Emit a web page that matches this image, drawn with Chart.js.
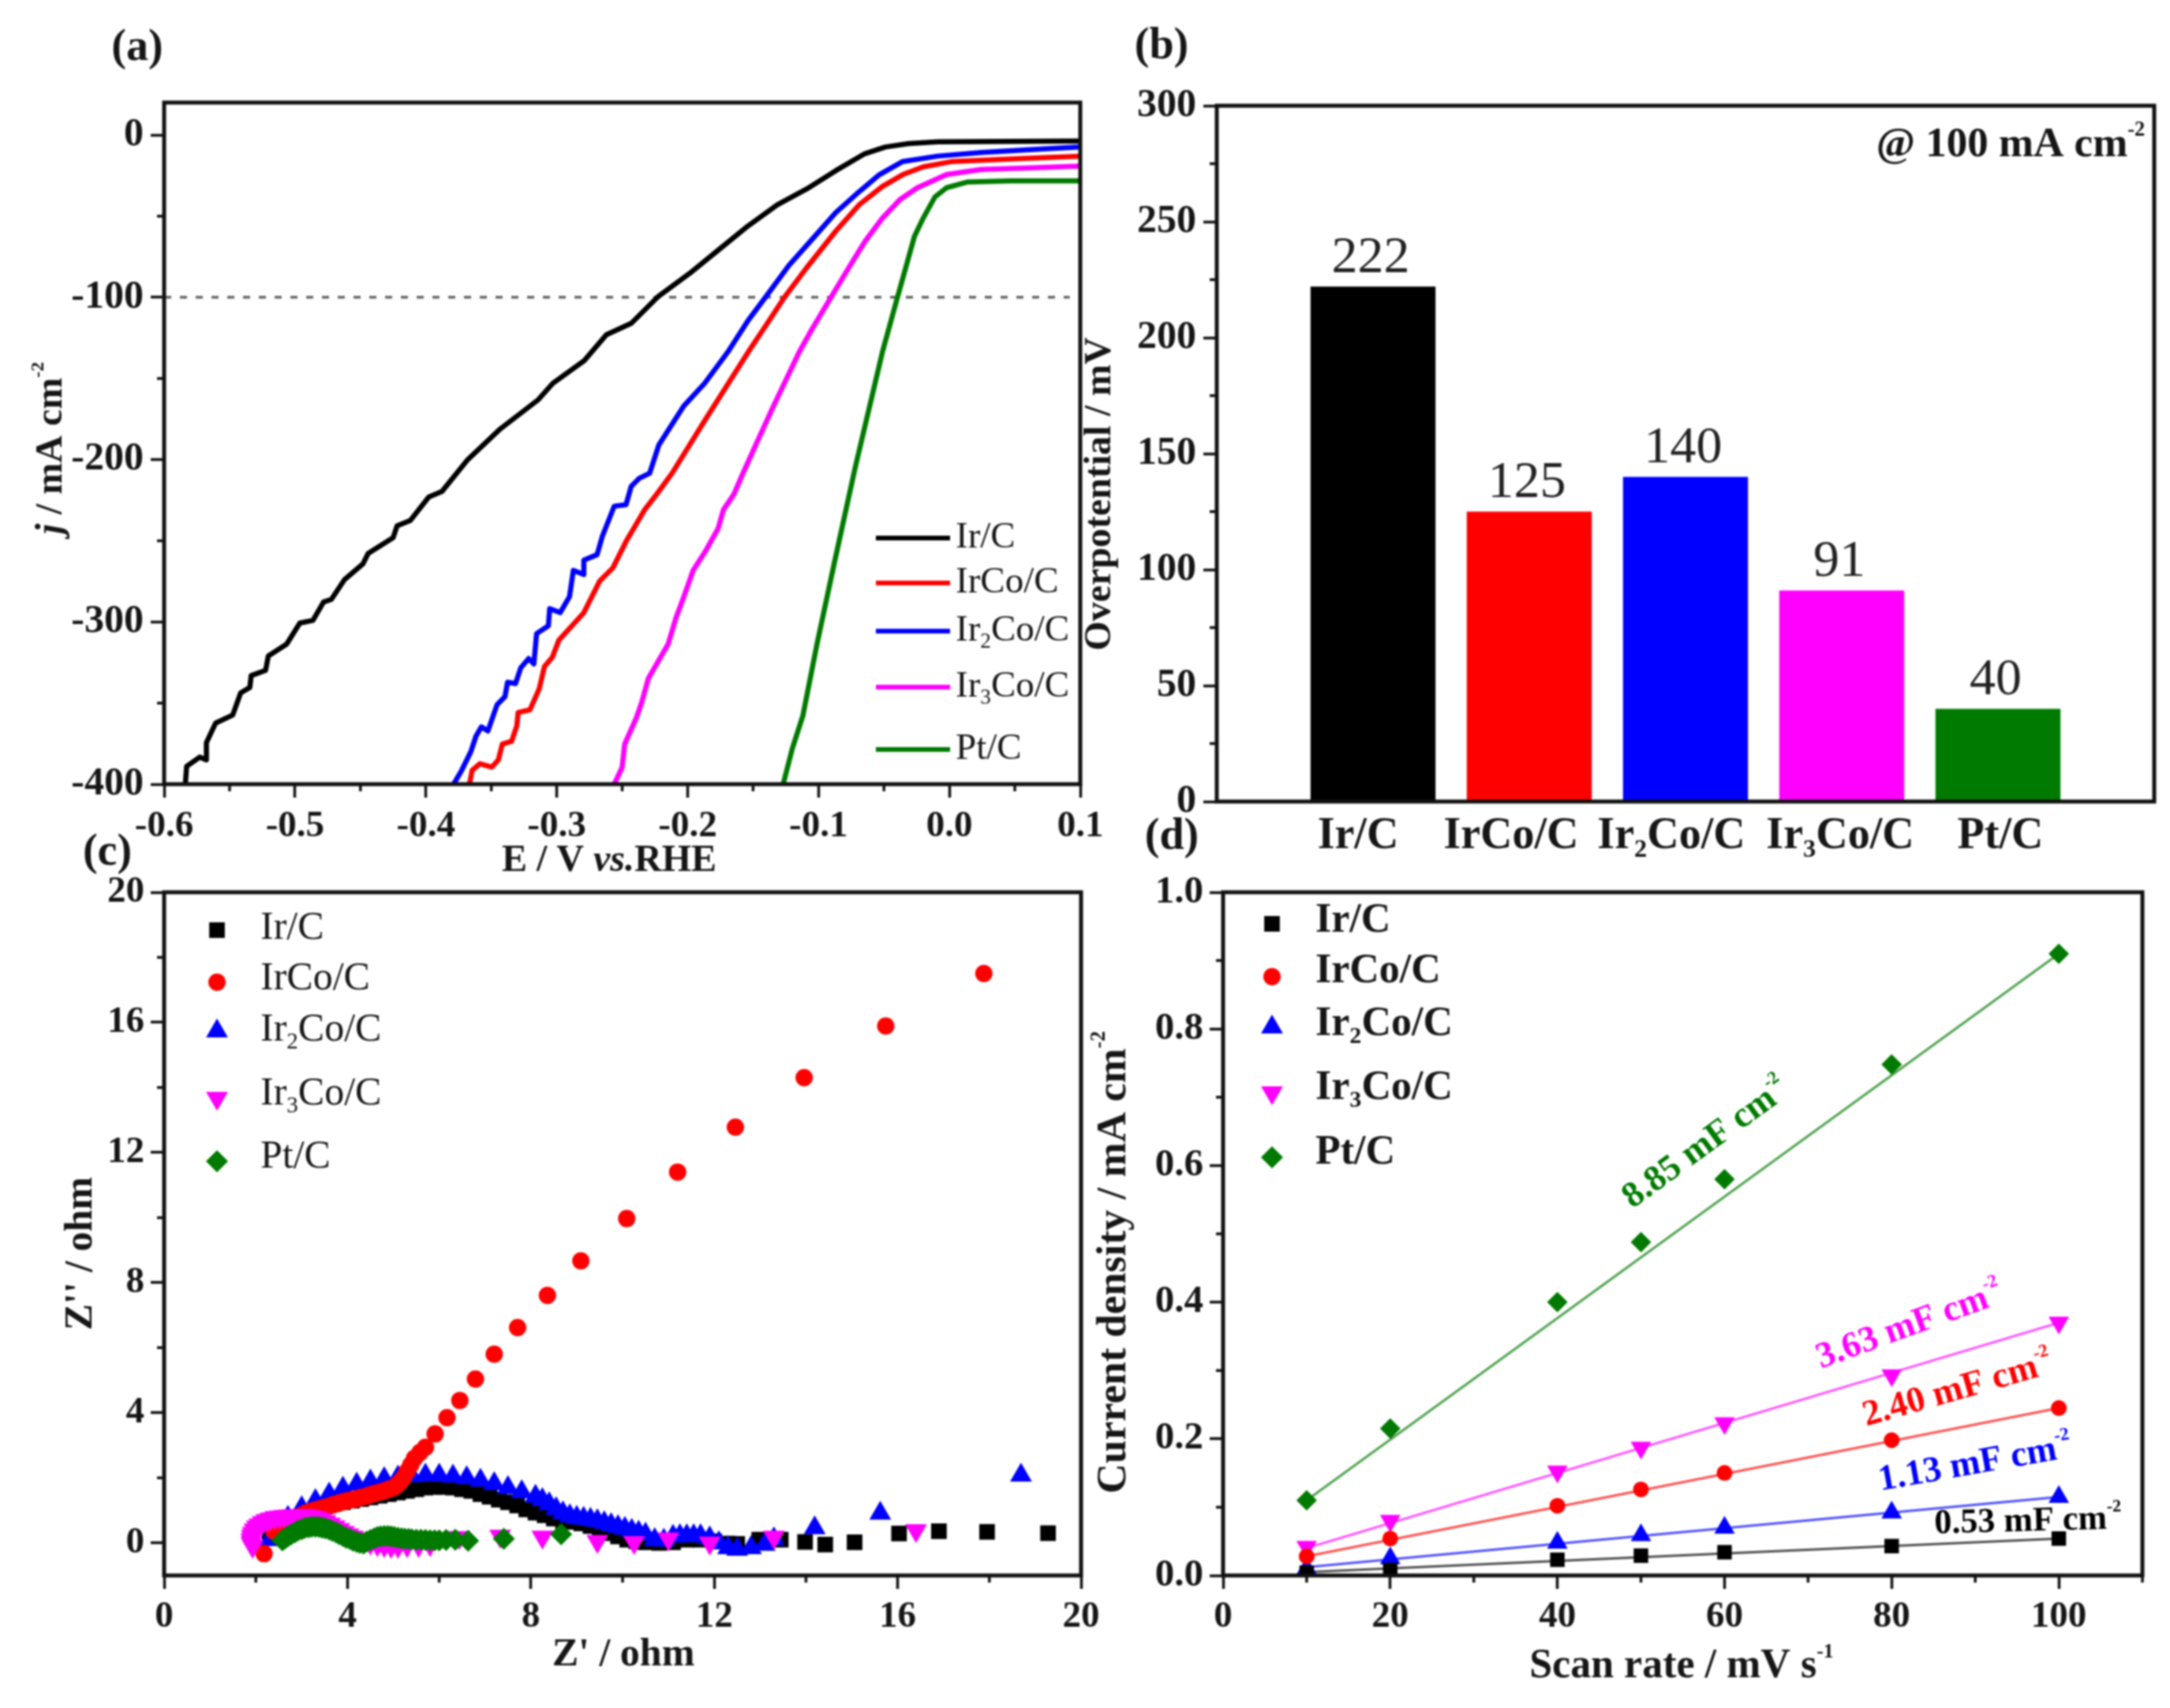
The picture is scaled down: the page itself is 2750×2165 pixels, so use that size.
<!DOCTYPE html>
<html>
<head>
<meta charset="utf-8">
<title>Ir catalysts</title>
<script src="https://cdn.jsdelivr.net/npm/chart.js@4/dist/chart.umd.js"></script>
<style>
    html, body { margin: 0; background: #fff; }
    body { position: relative; width: 2750px; height: 2165px; overflow: hidden; }
    canvas { position: absolute; left: 0; top: 0; filter: blur(1px); }
</style>
</head>
<body>
<canvas id="lsvChart" width="2750" height="2165"></canvas>
<canvas id="barChart" width="2750" height="2165"></canvas>
<canvas id="eisChart" width="2750" height="2165"></canvas>
<canvas id="cdlChart" width="2750" height="2165"></canvas>
<script>
const catalysts = ['Ir/C', 'IrCo/C', 'Ir_{2}Co/C', 'Ir_{3}Co/C', 'Pt/C'];
const colors = ['#000000', '#ff0000', '#0000ff', '#ff00ff', '#007a00'];

// (a) polarisation curves, [E, j]
const lsvIr = [[-0.5838,-400],[-0.5828,-389],[-0.5727,-383.3],[-0.5677,-385],[-0.5677,-374.4],[-0.5606,-362.3],[-0.5476,-357.4],[-0.5415,-343.7],[-0.5345,-340.4],[-0.5335,-333.1],[-0.5225,-329.9],[-0.5204,-321],[-0.5064,-313.7],[-0.4963,-300.7],[-0.4863,-299.1],[-0.4782,-287.8],[-0.4722,-286.1],[-0.4622,-274],[-0.4481,-264.3],[-0.4441,-257.8],[-0.425,-248.1],[-0.422,-240.8],[-0.4119,-237.5],[-0.3978,-223],[-0.3878,-219.7],[-0.368,-200],[-0.343,-181],[-0.314,-163],[-0.303,-153],[-0.279,-139],[-0.262,-123],[-0.243,-116],[-0.2229,-99.8],[-0.1984,-85.2],[-0.1761,-70.6],[-0.1538,-56],[-0.1315,-43],[-0.1092,-33.3],[-0.0869,-22],[-0.0646,-11.5],[-0.049,-7.4],[-0.0312,-5.3],[-0.0089,-4.2],[0.1,-3.7]];
const lsvIrCo = [[-0.3667,-400],[-0.3647,-391.5],[-0.3587,-387.4],[-0.3496,-389.5],[-0.3446,-385],[-0.3416,-375.3],[-0.3345,-373.6],[-0.3305,-363.9],[-0.3295,-355.8],[-0.3205,-354.2],[-0.3134,-341.2],[-0.3094,-327.5],[-0.3034,-321.8],[-0.2984,-311.3],[-0.2893,-303.2],[-0.2793,-294.3],[-0.2672,-274.8],[-0.2571,-266.7],[-0.2471,-250.5],[-0.233,-231.1],[-0.223,-220.6],[-0.2119,-208.4],[-0.187,-176],[-0.1538,-133.8],[-0.1404,-117.6],[-0.1259,-99.8],[-0.1092,-81.9],[-0.0869,-59.3],[-0.0691,-43.1],[-0.0512,-31.7],[-0.0356,-24.4],[-0.02,-19.6],[0.0023,-16.3],[0.0469,-14.7],[0.1,-13.1]];
const lsvIr2Co = [[-0.3788,-400],[-0.3727,-391.5],[-0.3657,-380.1],[-0.3617,-370.4],[-0.3576,-364.7],[-0.3526,-367.2],[-0.3456,-351],[-0.3396,-346.1],[-0.3376,-337.2],[-0.3315,-338],[-0.3275,-328.3],[-0.3215,-322.6],[-0.3175,-325.9],[-0.3154,-307.2],[-0.3064,-302.4],[-0.3054,-291.8],[-0.2974,-294.3],[-0.2903,-284.5],[-0.2873,-268.3],[-0.2793,-270.8],[-0.2793,-261.9],[-0.2692,-258.6],[-0.2652,-247.3],[-0.2561,-228.7],[-0.2471,-227.8],[-0.2431,-216.5],[-0.2371,-211.6],[-0.229,-208.4],[-0.222,-191],[-0.203,-167],[-0.187,-153],[-0.1694,-133.8],[-0.1538,-114.3],[-0.1404,-99.8],[-0.1226,-80.3],[-0.1047,-64.1],[-0.0869,-47.9],[-0.0691,-35],[-0.0534,-24.4],[-0.0356,-16.3],[-0.0089,-13],[0.0246,-10.7],[0.0692,-8.7],[0.1,-7.4]];
const lsvIr3Co = [[-0.2561,-400],[-0.2501,-389.8],[-0.2481,-375.3],[-0.2391,-359],[-0.235,-349.3],[-0.23,-334.8],[-0.2149,-313.7],[-0.2089,-297.5],[-0.2029,-284.5],[-0.1958,-268.3],[-0.1868,-257],[-0.1767,-242.4],[-0.1727,-231],[-0.1647,-221.4],[-0.1577,-208.4],[-0.148,-191],[-0.135,-168],[-0.1148,-133.8],[-0.1047,-119.2],[-0.0903,-99.8],[-0.0758,-80.3],[-0.0646,-65.7],[-0.0512,-51.2],[-0.0378,-39.8],[-0.0245,-32.5],[-0.0022,-24.4],[0.0246,-21.2],[0.0581,-20.4],[0.1,-19.1]];
const lsvPt = [[-0.127,-400],[-0.12,-378],[-0.112,-358],[-0.101,-313],[-0.088,-264],[-0.072,-205],[-0.0512,-133.8],[-0.0457,-117.6],[-0.0396,-99.8],[-0.0334,-81.9],[-0.0267,-62.5],[-0.02,-51.2],[-0.0111,-38.2],[-0.0022,-32.5],[0.0134,-29],[0.0469,-28.2],[0.1,-28.2]];
const lsvRef = [[-0.6,-100],[0.092,-100]];
const lsvXTicks = [-0.6,-0.5,-0.4,-0.3,-0.2,-0.1,0,0.1];
const lsvXMinor = [-0.55,-0.45,-0.35,-0.25,-0.15,-0.05,0.05];
const lsvYTicks = [-400,-300,-200,-100,0];
const lsvYMinor = [-350,-250,-150,-50];

// (b) overpotential at 100 mA cm-2
const overpotential = [222, 125, 140, 91, 40];
const barYTicks = [0,50,100,150,200,250,300];
const barYMinor = [25,75,125,175,225,275];

// (c) Nyquist plots, [Z', Z'']
const eisIr = [[2.3,0.2],[2.5,0.45],[2.7,0.65],[2.9,0.8],[3.1,0.95],[3.3,1.05],[3.5,1.15],[3.7,1.2],[3.9,1.25],[4.1,1.3],[4.3,1.35],[4.5,1.4],[4.7,1.45],[4.9,1.5],[5.1,1.55],[5.3,1.6],[5.5,1.65],[5.7,1.7],[5.9,1.72],[6.1,1.72],[6.3,1.7],[6.5,1.65],[6.7,1.6],[6.9,1.5],[7.1,1.42],[7.3,1.33],[7.5,1.25],[7.7,1.15],[7.9,1.03],[8.1,0.93],[8.3,0.85],[8.5,0.75],[8.7,0.68],[8.9,0.65],[9.1,0.6],[9.3,0.52],[9.5,0.42],[9.7,0.3],[9.9,0.2],[10.1,0.1],[10.3,0.05],[10.5,0.02],[10.8,0],[11.1,0.02],[11.4,0.1],[11.7,0.1],[12,0.05],[12.3,-0.02],[12.5,-0.03],[12.98,0.1],[13.45,0.1],[13.98,0.03],[14.42,-0.05],[15.06,0.02],[16.03,0.29],[16.9,0.36],[17.95,0.34],[19.28,0.3]];
const eisIrCo = [[2.18,-0.33],[2.4,0.35],[2.5,0.5],[2.6,0.6],[2.7,0.66],[2.8,0.72],[2.9,0.79],[3,0.85],[3.1,0.92],[3.2,0.97],[3.3,1.01],[3.4,1.05],[3.5,1.09],[3.6,1.13],[3.7,1.18],[3.8,1.22],[3.9,1.26],[4,1.3],[4.1,1.33],[4.2,1.36],[4.3,1.4],[4.4,1.43],[4.5,1.48],[4.6,1.52],[4.7,1.56],[4.8,1.6],[4.9,1.65],[5,1.7],[5.08,1.78],[5.15,1.88],[5.22,2],[5.3,2.2],[5.38,2.4],[5.46,2.6],[5.58,2.78],[5.7,2.94],[5.91,3.35],[6.17,3.85],[6.45,4.38],[6.79,5.04],[7.2,5.8],[7.71,6.62],[8.36,7.61],[9.09,8.67],[10.09,9.97],[11.2,11.4],[12.46,12.78],[13.96,14.3],[15.74,15.89],[17.88,17.5]];
const eisIr2Co = [[2.3,0.1],[2.5,0.5],[2.7,0.78],[3,1.08],[3.3,1.3],[3.6,1.5],[3.9,1.68],[4.2,1.8],[4.5,1.9],[4.8,1.97],[5.1,2.02],[5.4,2.06],[5.7,2.08],[6,2.08],[6.3,2.05],[6.6,2],[6.9,1.92],[7.2,1.82],[7.5,1.7],[7.8,1.57],[8.1,1.43],[8.25,1.33],[8.4,1.2],[8.55,1.05],[8.7,0.92],[8.85,0.83],[9,0.78],[9.15,0.75],[9.3,0.72],[9.45,0.68],[9.6,0.62],[9.75,0.56],[9.9,0.5],[10.05,0.44],[10.2,0.38],[10.35,0.33],[10.5,0.27],[10.7,0.1],[10.9,0.08],[11.1,0.2],[11.25,0.22],[11.4,0.22],[11.55,0.22],[11.7,0.22],[11.9,0.15],[12.1,0],[12.3,-0.15],[12.5,-0.2],[12.8,-0.15],[13.1,-0.05],[13.3,0.12],[14.19,0.46],[15.62,0.91],[18.69,2.08]];
const eisIr3Co = [[1.93,-0.1],[1.9,0],[1.9,0.1],[1.91,0.2],[1.93,0.3],[1.97,0.4],[2.02,0.49],[2.08,0.56],[2.15,0.63],[2.23,0.69],[2.32,0.74],[2.42,0.78],[2.52,0.8],[2.62,0.82],[2.72,0.83],[2.82,0.84],[2.92,0.84],[3.02,0.84],[3.12,0.83],[3.22,0.81],[3.32,0.77],[3.42,0.72],[3.52,0.66],[3.62,0.58],[3.72,0.5],[3.82,0.42],[3.92,0.33],[4.02,0.25],[4.12,0.18],[4.22,0.12],[4.35,0.05],[4.5,0],[4.65,-0.05],[4.8,-0.08],[4.95,-0.1],[5.1,-0.1],[5.3,-0.08],[5.55,-0.07],[5.8,-0.05],[6.44,0.17],[7.33,0.21],[8.25,0.18],[9.45,0.05],[10.25,0.02],[11,0.13],[11.9,0],[13.3,0.18],[16.4,0.38]];
const eisPt = [[2.58,0.08],[2.64,0.14],[2.7,0.2],[2.77,0.26],[2.85,0.32],[2.92,0.38],[3,0.42],[3.07,0.46],[3.15,0.48],[3.22,0.5],[3.3,0.5],[3.38,0.49],[3.45,0.47],[3.52,0.45],[3.6,0.41],[3.67,0.37],[3.75,0.32],[3.82,0.27],[3.9,0.21],[3.97,0.16],[4.05,0.12],[4.12,0.07],[4.2,0.03],[4.27,0],[4.35,-0.02],[4.42,0.04],[4.5,0.09],[4.58,0.14],[4.65,0.18],[4.72,0.2],[4.8,0.21],[4.88,0.21],[4.95,0.2],[5.02,0.18],[5.1,0.16],[5.18,0.14],[5.25,0.13],[5.33,0.12],[5.4,0.11],[5.5,0.1],[5.6,0.1],[5.7,0.09],[5.8,0.08],[5.9,0.08],[6,0.08],[6.15,0.09],[6.35,0.1],[6.63,0.07],[7.41,0.13],[8.66,0.27]];
const eisTicks = [0,4,8,12,16,20];
const eisXMinor = [2,6,10,14,18];
const eisYTicks = [0,4,8,12,16,20];
const eisYMinor = [2,6,10,14,18];

// (d) double layer charging, values at each scan rate
const scanRates = [10,20,40,50,60,80,100];
const cdlIr = [0.004,0.008,0.023,0.029,0.034,0.043,0.054];
const cdlIrCo = [0.028,0.054,0.102,0.126,0.15,0.198,0.245];
const cdlIr2Co = [0.01,0.025,0.048,0.059,0.07,0.092,0.115];
const cdlIr3Co = [0.042,0.08,0.152,0.187,0.223,0.293,0.37];
const cdlPt = [0.11,0.215,0.4,0.488,0.58,0.748,0.91];
// linear fits, value at 10 and at 100 mV/s
const fitRates = [10,100];
const fitIr = [0.005,0.054];
const fitIrCo = [0.028,0.245];
const fitIr2Co = [0.012,0.115];
const fitIr3Co = [0.04,0.37];
const fitPt = [0.11,0.91];
const cdlXTicks = [0,20,40,60,80,100];
const cdlXMinor = [10,30,50,70,90,110];
const cdlYTicks = [0,0.2,0.4,0.6,0.8,1];
const cdlYMinor = [0.1,0.3,0.5,0.7,0.9];

const serif = '"Liberation Serif"';
const ink = '#161616';
const markers = [
    { style: 'rect', radius: 14, rotation: 0 },
    { style: 'circle', radius: 11, rotation: 0 },
    { style: 'triangle', radius: 16, rotation: 0 },
    { style: 'triangle', radius: 16, rotation: 180 },
    { style: 'rectRot', radius: 14, rotation: 0 }
];

// text with _{sub}, ^{sup} and *italic* parts
function drawRich(ctx, text, x, y, opt) {
    const size = opt.size, weight = opt.weight || 'normal';
    const parts = text.split(/(_\{[^}]*\}|\^\{[^}]*\}|\*[^*]*\*)/).filter(p => p);
    const runs = parts.map(p => {
        if (p[0] === '_') return { t: p.slice(2, -1), font: `${weight} ${size * 0.58}px ${serif}`, dy: size * 0.3 };
        if (p[0] === '^') return { t: p.slice(2, -1), font: `${weight} ${size * 0.5}px ${serif}`, dy: -size * 0.36 };
        if (p[0] === '*') return { t: p.slice(1, -1), font: `italic ${weight} ${size}px ${serif}`, dy: 0 };
        return { t: p, font: `${weight} ${size}px ${serif}`, dy: 0 };
    });
    ctx.save();
    let total = 0;
    runs.forEach(r => { ctx.font = r.font; r.w = ctx.measureText(r.t).width; total += r.w; });
    ctx.translate(x, y);
    ctx.rotate((opt.angle || 0) * Math.PI / 180);
    ctx.fillStyle = opt.color || ink;
    ctx.textBaseline = 'middle';
    ctx.textAlign = 'left';
    let cx = opt.align === 'left' ? 0 : -total / 2;
    runs.forEach(r => { ctx.font = r.font; ctx.fillText(r.t, cx, r.dy); cx += r.w; });
    ctx.restore();
}

// frame, minor ticks and all text for one panel
function panelPlugin(cfg) {
    return {
        id: 'panel',
        afterDraw(chart) {
            const ctx = chart.ctx, a = chart.chartArea;
            ctx.save();
            ctx.strokeStyle = '#111';
            ctx.lineWidth = 5;
            ctx.strokeRect(a.left, a.top, a.right - a.left, a.bottom - a.top);
            ctx.lineWidth = 3.5;
            ctx.beginPath();
            (cfg.minorX || []).forEach(v => {
                const px = chart.scales.x.getPixelForValue(v);
                ctx.moveTo(px, a.bottom);
                ctx.lineTo(px, a.bottom + 9);
            });
            (cfg.minorY || []).forEach(v => {
                const py = chart.scales.y.getPixelForValue(v);
                ctx.moveTo(a.left, py);
                ctx.lineTo(a.left - 9, py);
            });
            ctx.stroke();
            ctx.restore();
            (cfg.texts || []).forEach(t => drawRich(ctx, t.text, t.x, t.y, t));
            if (cfg.extra) cfg.extra(chart, ctx);
        }
    };
}

function legendMarkers(ctx, xMark, yMarks, xText, yTexts, size, weight) {
    catalysts.forEach((name, i) => {
        ctx.save();
        ctx.fillStyle = colors[i];
        Chart.helpers.drawPoint(ctx, {
            pointStyle: markers[i].style, radius: markers[i].radius,
            rotation: markers[i].rotation, borderWidth: 0
        }, xMark, yMarks[i]);
        ctx.restore();
        drawRich(ctx, name, xText, yTexts[i], { size: size, weight: weight, align: 'left' });
    });
}

function linearAxis(min, max, ticks, format, fit, fontSize, pad) {
    return {
        type: 'linear', min: min, max: max,
        afterBuildTicks: s => { s.ticks = ticks.map(v => ({ value: v })); },
        afterFit: fit,
        border: { display: false },
        grid: { drawOnChartArea: false, tickLength: 17, tickWidth: 3.5, tickColor: '#111' },
        ticks: {
            autoSkip: false, maxRotation: 0, padding: pad, color: ink,
            font: { family: serif, size: fontSize, weight: 'bold' },
            callback: format
        }
    };
}

function fitX(bottom) { return s => { s.height = 2165 - bottom; s.paddingLeft = 0; s.paddingRight = 0; }; }
function fitY(left) { return s => { s.width = left; s.paddingTop = 0; s.paddingBottom = 0; }; }
function padding(a) { return { left: 0, top: a.top, right: 2750 - a.right, bottom: 0 }; }

const baseOptions = { responsive: false, animation: false, events: [] };
const noPlugins = { legend: { display: false }, tooltip: { enabled: false } };
const fixed1 = v => v.toFixed(1);
const whole = v => String(v);

// (a) LSV curves
const areaA = { left: 208, right: 1369, top: 130, bottom: 994 };
const lsvSeries = [lsvIr, lsvIrCo, lsvIr2Co, lsvIr3Co, lsvPt];
new Chart(document.getElementById('lsvChart'), {
    type: 'scatter',
    data: {
        datasets: lsvSeries.map((d, i) => ({
            data: d, showLine: true, borderColor: colors[i], borderWidth: 6.5,
            borderJoinStyle: 'round', pointRadius: 0
        })).concat([{
            data: lsvRef, showLine: true, borderColor: '#666', borderWidth: 3.5, borderDash: [9, 11], pointRadius: 0
        }])
    },
    options: Object.assign({}, baseOptions, {
        layout: { padding: padding(areaA) },
        plugins: noPlugins,
        scales: {
            x: linearAxis(-0.6, 0.1, lsvXTicks, fixed1, fitX(areaA.bottom), 47, 9),
            y: linearAxis(-400, 20, lsvYTicks, whole, fitY(areaA.left), 50, 9)
        }
    }),
    plugins: [panelPlugin({
        minorX: lsvXMinor, minorY: lsvYMinor,
        texts: [
            { text: '(a)', x: 174, y: 62, size: 56, weight: 'bold' },
            { text: 'E / V *vs.*RHE', x: 772, y: 1092, size: 48, weight: 'bold' },
            { text: '*j* / mA cm^{-2}', x: 66, y: 568, size: 48, weight: 'bold', angle: -90 }
        ],
        extra(chart, ctx) {
            const rows = [682, 739, 800, 871, 950];
            catalysts.forEach((name, i) => {
                ctx.save();
                ctx.strokeStyle = colors[i];
                ctx.lineWidth = 6;
                ctx.beginPath();
                ctx.moveTo(1110, rows[i]);
                ctx.lineTo(1204, rows[i]);
                ctx.stroke();
                ctx.restore();
                drawRich(ctx, name, 1211, rows[i], { size: 47, align: 'left' });
            });
        }
    })]
});

// (b) overpotential bars
const areaB = { left: 1542, right: 2730, top: 134, bottom: 1016 };
const barLabelX = [1721, 1915, 2118, 2332, 2535];
new Chart(document.getElementById('barChart'), {
    type: 'bar',
    data: {
        labels: [''].concat(catalysts, ['']),
        datasets: [{
            data: [null].concat(overpotential, [null]),
            backgroundColor: ['#fff'].concat(colors, ['#fff']),
            categoryPercentage: 0.8,
            barPercentage: 1
        }]
    },
    options: Object.assign({}, baseOptions, {
        layout: { padding: padding(areaB) },
        plugins: noPlugins,
        scales: {
            x: {
                type: 'category', offset: false, afterFit: fitX(areaB.bottom),
                border: { display: false },
                grid: { display: false },
                ticks: { display: false, autoSkip: false }
            },
            y: linearAxis(0, 300, barYTicks, whole, fitY(areaB.left), 50, 9)
        }
    }),
    plugins: [panelPlugin({
        minorY: barYMinor,
        texts: [
            { text: '(b)', x: 1472, y: 60, size: 56, weight: 'bold' },
            { text: 'Overpotential / mV', x: 1395, y: 626, size: 48, weight: 'bold', angle: -90 },
            { text: '@ 100 mA cm^{-2}', x: 2548, y: 184, size: 53, weight: 'bold' }
        ],
        extra(chart, ctx) {
            const bars = chart.getDatasetMeta(0).data;
            overpotential.forEach((v, i) => {
                const bar = bars[i + 1];
                drawRich(ctx, String(v), bar.x - 3, bar.y - 36, { size: 66, color: '#222' });
                drawRich(ctx, catalysts[i], barLabelX[i], 1061, { size: 56, weight: 'bold' });
            });
        }
    })]
});

// (c) Nyquist scatter, later series sit on top
const areaC = { left: 208, right: 1370, top: 1131, bottom: 1997 };
const eisSeries = [eisIr, eisIrCo, eisIr2Co, eisIr3Co, eisPt];
const eisOrder = [4, 2, 3, 1, 0];
new Chart(document.getElementById('eisChart'), {
    type: 'scatter',
    data: {
        datasets: eisSeries.map((d, i) => ({
            data: d, order: eisOrder[i], pointStyle: markers[i].style, pointRadius: markers[i].radius,
            rotation: markers[i].rotation, backgroundColor: colors[i], pointBorderWidth: 0
        }))
    },
    options: Object.assign({}, baseOptions, {
        layout: { padding: padding(areaC) },
        plugins: noPlugins,
        scales: {
            x: linearAxis(0, 20, eisTicks, whole, fitX(areaC.bottom), 47, 8),
            y: linearAxis(-1, 20, eisYTicks, whole, fitY(areaC.left), 47, 8)
        }
    }),
    plugins: [panelPlugin({
        minorX: eisXMinor, minorY: eisYMinor,
        texts: [
            { text: '(c)', x: 136, y: 1082, size: 56, weight: 'bold' },
            { text: "Z' / ohm", x: 790, y: 2098, size: 50, weight: 'bold' },
            { text: "Z'' / ohm", x: 103, y: 1589, size: 50, weight: 'bold', angle: -90 }
        ],
        extra(chart, ctx) {
            legendMarkers(ctx, 275, [1179, 1245, 1307, 1392, 1472], 330, [1177, 1241, 1306, 1387, 1467], 50, 'normal');
        }
    })]
});

// (d) Cdl fits
const areaD = { left: 1550, right: 2715, top: 1131, bottom: 1997 };
const cdlSeries = [cdlIr, cdlIrCo, cdlIr2Co, cdlIr3Co, cdlPt];
const fitSeries = [fitIr, fitIrCo, fitIr2Co, fitIr3Co, fitPt];
new Chart(document.getElementById('cdlChart'), {
    type: 'scatter',
    data: {
        datasets: cdlSeries.map((d, i) => ({
            data: d.map((v, k) => ({ x: scanRates[k], y: v })),
            pointStyle: markers[i].style,
            pointRadius: markers[i].radius - 1,
            rotation: markers[i].rotation,
            backgroundColor: colors[i],
            pointBorderWidth: 0
        })).concat(fitSeries.map((d, i) => ({
            data: d.map((v, k) => ({ x: fitRates[k], y: v })),
            showLine: true, pointRadius: 0, borderWidth: 3, borderColor: colors[i] + 'b0', order: 1
        })))
    },
    options: Object.assign({}, baseOptions, {
        layout: { padding: padding(areaD) },
        plugins: noPlugins,
        scales: {
            x: linearAxis(0, 110, cdlXTicks, whole, fitX(areaD.bottom), 47, 8),
            y: linearAxis(0, 1, cdlYTicks, fixed1, fitY(areaD.left), 49, 8)
        }
    }),
    plugins: [panelPlugin({
        minorX: cdlXMinor, minorY: cdlYMinor,
        texts: [
            { text: '(d)', x: 1485, y: 1062, size: 56, weight: 'bold' },
            { text: 'Scan rate / mV s^{-1}', x: 2131, y: 2113, size: 52, weight: 'bold' },
            { text: 'Current density / mA cm^{-2}', x: 1412, y: 1600, size: 53, weight: 'bold', angle: -90 },
            { text: '8.85 mF cm^{-2}', x: 2162, y: 1450, size: 46, weight: 'bold', angle: -36, color: colors[4] },
            { text: '3.63 mF cm^{-2}', x: 2420, y: 1681, size: 46, weight: 'bold', angle: -20, color: colors[3] },
            { text: '2.40 mF cm^{-2}', x: 2481, y: 1762, size: 46, weight: 'bold', angle: -16, color: colors[1] },
            { text: '1.13 mF cm^{-2}', x: 2503, y: 1856, size: 46, weight: 'bold', angle: -10, color: colors[2] },
            { text: '0.53 mF cm^{-2}', x: 2570, y: 1929, size: 44, weight: 'bold', angle: -1.5, color: colors[0] }
        ],
        extra(chart, ctx) {
            legendMarkers(ctx, 1612, [1171, 1238, 1302, 1385, 1467], 1667, [1168, 1232, 1299, 1380, 1462], 52, 'bold');
        }
    })]
});
</script>
</body>
</html>
